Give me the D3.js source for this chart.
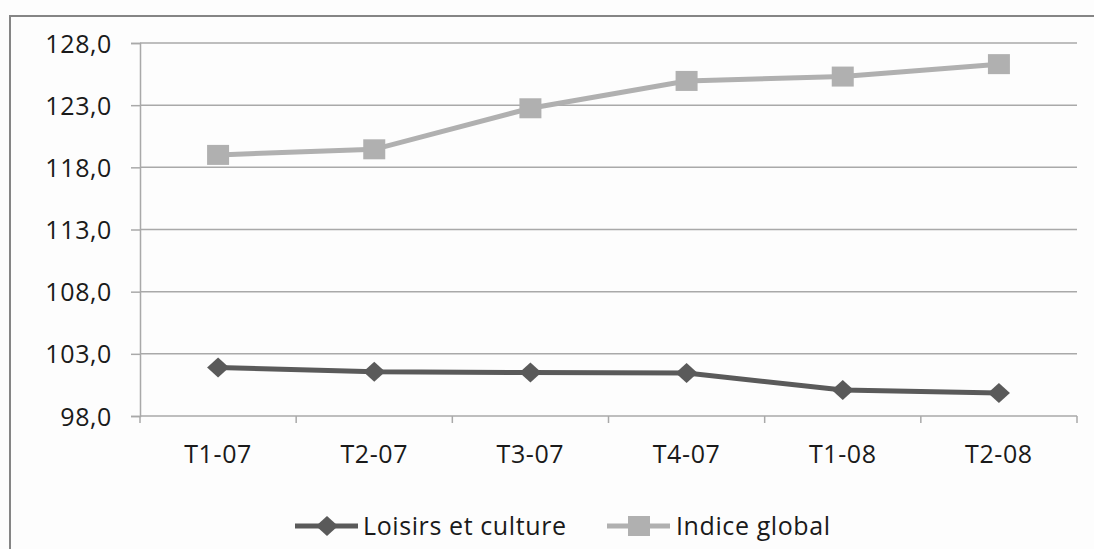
<!DOCTYPE html>
<html>
<head>
<meta charset="utf-8">
<script src="https://cdn.jsdelivr.net/npm/d3@7"></script>
<style>
  body { margin: 0; background: #fff; }
  svg text { font-family: "Open Sans", sans-serif; fill: #1a1a1a; letter-spacing: 0.6px; }
</style>
</head>
<body>
<div id="chart"></div>
<script>
// data
const categories = ["T1-07", "T2-07", "T3-07", "T4-07", "T1-08", "T2-08"];
const loisirs = [101.9, 101.55, 101.5, 101.45, 100.1, 99.85];
const indice = [119.0, 119.45, 122.75, 124.95, 125.3, 126.3];
const yTicks = [98, 103, 108, 113, 118, 123, 128];
const seriesNames = ["Loisirs et culture", "Indice global"];

const width = 1094, height = 549;
const plot = { left: 140, right: 1077, top: 43, bottom: 416 };
const fontSize = 25;

const svg = d3.select("#chart").append("svg")
    .attr("width", width)
    .attr("height", height);

svg.append("rect")
    .attr("width", width).attr("height", height)
    .attr("fill", "#fdfdfd");

// chart frame (right/bottom edges fall outside the picture)
svg.append("path")
    .attr("d", `M10,${height + 2} V16 H${width + 2}`)
    .attr("fill", "none")
    .attr("stroke", "#858585")
    .attr("stroke-width", 2);

const x = d3.scaleBand().domain(categories).range([plot.left, plot.right]).padding(0);
const y = d3.scaleLinear().domain([98, 128]).range([plot.bottom, plot.top]);
const cx = d => x(d) + x.bandwidth() / 2;

const fmt = v => d3.format(".1f")(v).replace(".", ",");

// gridlines
svg.append("g").selectAll("line")
    .data(yTicks.slice(1))
    .join("line")
    .attr("x1", plot.left).attr("x2", plot.right)
    .attr("y1", d => y(d)).attr("y2", d => y(d))
    .attr("stroke", "#a9a9a9")
    .attr("stroke-width", 1.5);

// y axis
const yAxis = svg.append("g")
    .attr("transform", `translate(${plot.left},0)`)
    .call(d3.axisLeft(y).tickValues(yTicks).tickFormat(fmt).tickSize(9).tickPadding(19));
yAxis.select(".domain").attr("stroke", "#a9a9a9").attr("stroke-width", 1.5);
yAxis.selectAll(".tick line").attr("stroke", "#a9a9a9").attr("stroke-width", 1.5);
yAxis.selectAll(".tick text")
    .attr("font-family", "Open Sans, sans-serif")
    .attr("font-size", fontSize)
    .attr("fill", "#1a1a1a")
    .attr("dy", "0.36em");

// x axis: ticks at band boundaries, labels at centers
const xAxis = svg.append("g")
    .attr("transform", `translate(0,${plot.bottom})`);
xAxis.append("line")
    .attr("x1", plot.left).attr("x2", plot.right)
    .attr("stroke", "#a9a9a9").attr("stroke-width", 1.5);
const bounds = categories.map(c => x(c)).concat([plot.right]);
xAxis.selectAll("line.tk")
    .data(bounds)
    .join("line")
    .attr("class", "tk")
    .attr("x1", d => d).attr("x2", d => d)
    .attr("y1", 0).attr("y2", 7)
    .attr("stroke", "#a9a9a9").attr("stroke-width", 1.5);
xAxis.selectAll("text")
    .data(categories)
    .join("text")
    .attr("x", d => cx(d))
    .attr("y", 47)
    .attr("text-anchor", "middle")
    .attr("font-size", fontSize)
    .text(d => d);

// lines
const line = d3.line()
    .x((d, i) => cx(categories[i]))
    .y(d => y(d));

const colors = ["#5a5a5a", "#b0b0b0"];

svg.append("path")
    .datum(indice)
    .attr("d", line)
    .attr("fill", "none")
    .attr("stroke", colors[1])
    .attr("stroke-width", 5);

svg.append("g").selectAll("rect")
    .data(indice)
    .join("rect")
    .attr("x", (d, i) => cx(categories[i]) - 11)
    .attr("y", d => y(d) - 10)
    .attr("width", 22).attr("height", 20)
    .attr("fill", colors[1]);

svg.append("path")
    .datum(loisirs)
    .attr("d", line)
    .attr("fill", "none")
    .attr("stroke", colors[0])
    .attr("stroke-width", 5);

const diamond = (px, py) => `M${px - 11},${py} L${px},${py - 10} L${px + 11},${py} L${px},${py + 10} Z`;

svg.append("g").selectAll("path")
    .data(loisirs)
    .join("path")
    .attr("d", (d, i) => diamond(cx(categories[i]), y(d)))
    .attr("fill", colors[0]);

// legend
const legendY = 526;
const legend = svg.append("g");
const lg0 = legend.append("g").attr("transform", "translate(295,0)");
lg0.append("line").attr("x1", 0).attr("x2", 63).attr("y1", legendY).attr("y2", legendY)
    .attr("stroke", colors[0]).attr("stroke-width", 5);
lg0.append("path").attr("d", diamond(32, legendY)).attr("fill", colors[0]);
lg0.append("text").attr("x", 68).attr("y", legendY).attr("dy", "0.36em")
    .attr("font-size", fontSize).text(seriesNames[0]);

const lg1 = legend.append("g").attr("transform", "translate(607,0)");
lg1.append("line").attr("x1", 0).attr("x2", 63).attr("y1", legendY).attr("y2", legendY)
    .attr("stroke", colors[1]).attr("stroke-width", 5);
lg1.append("rect").attr("x", 21).attr("y", legendY - 10).attr("width", 22).attr("height", 20)
    .attr("fill", colors[1]);
lg1.append("text").attr("x", 69).attr("y", legendY).attr("dy", "0.36em")
    .attr("font-size", fontSize).text(seriesNames[1]);
</script>
</body>
</html>
